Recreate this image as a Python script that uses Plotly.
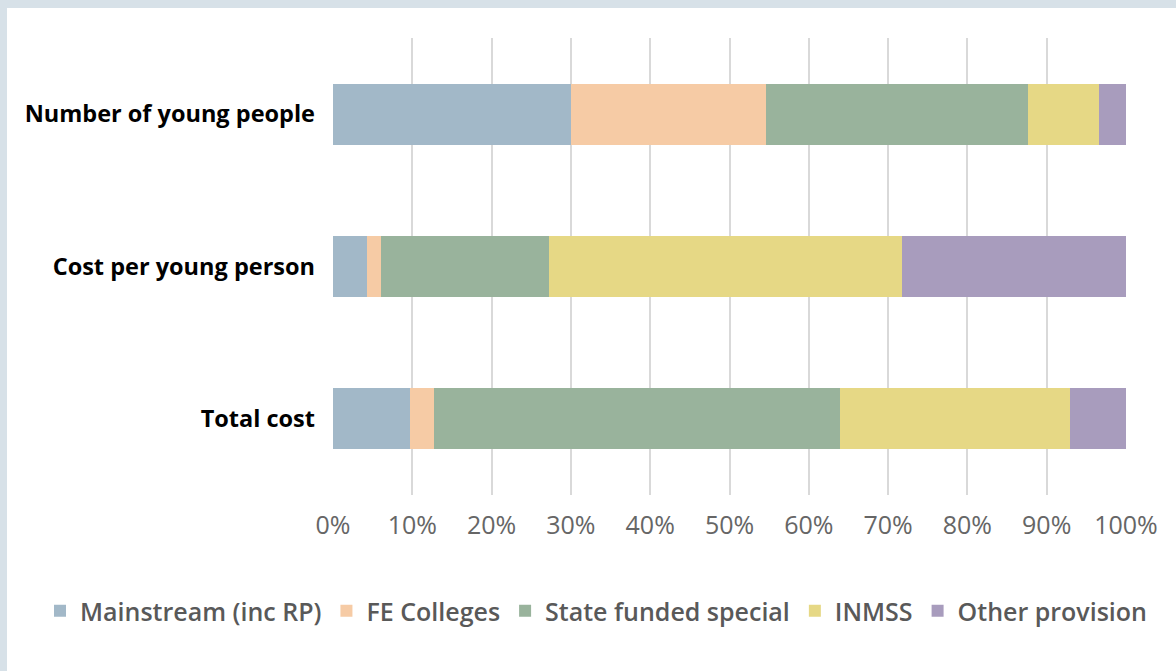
import plotly.graph_objects as go

categories = ["Number of young people", "Cost per young person", "Total cost"]
series_names = ["Mainstream (inc RP)", "FE Colleges", "State funded special", "INMSS", "Other provision"]
mainstream = [30.0, 4.3, 9.7]
fe_colleges = [24.6, 1.8, 3.0]
state_special = [33.0, 21.2, 51.2]
inmss = [9.0, 44.5, 29.0]
other = [3.4, 28.2, 7.1]
colors = ["#a2b8c8", "#f6cba5", "#99b39c", "#e6d885", "#a89cbd"]
x_ticks = list(range(0, 101, 10))

W, H = 1176, 671
L, R, T, B = 333, 50, 38, 176

fig = go.Figure()
for name, vals, col in zip(series_names, [mainstream, fe_colleges, state_special, inmss, other], colors):
    fig.add_trace(go.Bar(
        y=categories, x=vals, name=name, orientation="h",
        marker=dict(color=col, line=dict(width=0)),
        width=0.4, hoverinfo="skip",
    ))

pw, ph = W - L - R, H - T - B
def px2paper_x(px):
    return (px - L) / pw
def px2paper_y(py):
    return (H - B - py) / ph

frame = "#d7e1e8"
fig.add_shape(type="rect", xref="paper", yref="paper",
              x0=px2paper_x(0), x1=px2paper_x(W), y0=px2paper_y(8), y1=px2paper_y(0),
              fillcolor=frame, line_width=0, layer="below")
fig.add_shape(type="rect", xref="paper", yref="paper",
              x0=px2paper_x(0), x1=px2paper_x(7), y0=px2paper_y(H), y1=px2paper_y(0),
              fillcolor=frame, line_width=0, layer="below")

fig.update_layout(
    width=W, height=H,
    barmode="stack",
    margin=dict(l=L, r=R, t=T, b=B, pad=0),
    paper_bgcolor="white", plot_bgcolor="white",
    font=dict(family="Open Sans", color="#595959"),
    showlegend=True,
    legend=dict(orientation="h", x=px2paper_x(40), xanchor="left",
                y=px2paper_y(611), yanchor="middle",
                font=dict(size=25, color="#595959", family="Open Sans", weight=600),
                traceorder="normal", itemwidth=30),
    xaxis=dict(range=[0, 100], tickvals=x_ticks, ticktext=[f"{v}%" for v in x_ticks],
               showgrid=True, gridcolor="#d9d9d9", gridwidth=2, zeroline=False,
               showline=False, tickfont=dict(size=25, color="#666666"),
               ticks="", ticklabelstandoff=13, fixedrange=True),
    yaxis=dict(categoryorder="array", categoryarray=categories, autorange="reversed",
               showgrid=False, zeroline=False, showline=False,
               tickfont=dict(size=23.5, color="#000000", family="Open Sans", weight="bold"),
               ticks="", ticklabelstandoff=17, fixedrange=True),
)

fig.write_html("out.html")
